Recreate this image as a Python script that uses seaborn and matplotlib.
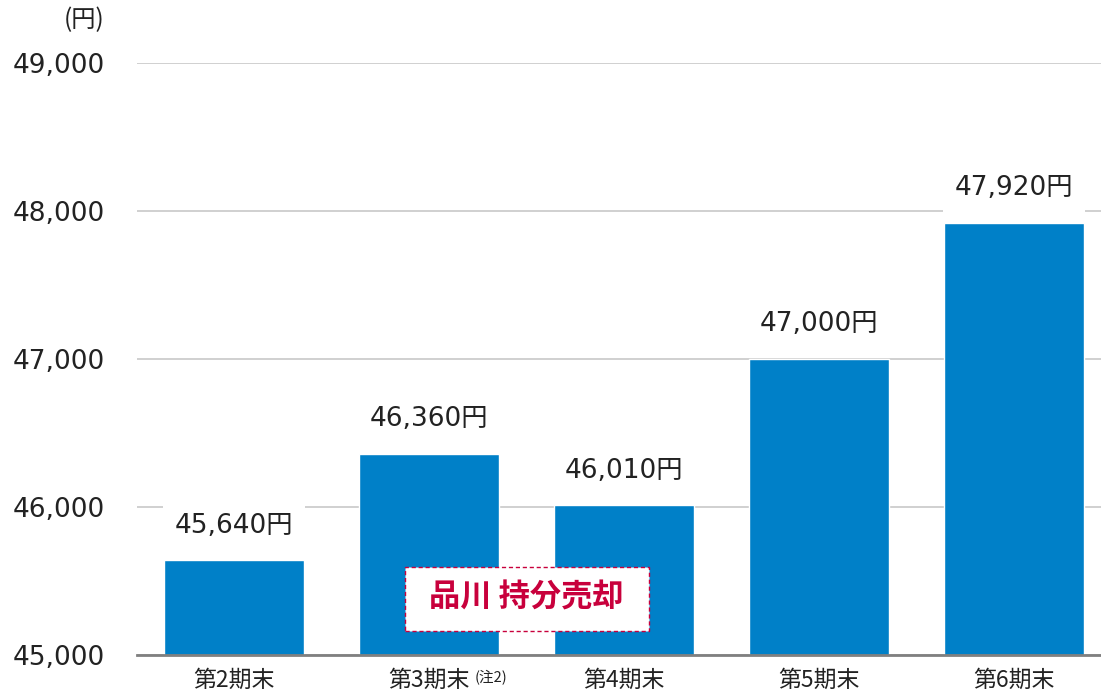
import matplotlib
matplotlib.use("Agg")
import matplotlib.pyplot as plt
from matplotlib.patches import Rectangle
import seaborn as sns
import pandas as pd

categories = ["第2期末", "第3期末", "第4期末", "第5期末", "第6期末"]
values = [45640, 46360, 46010, 47000, 47920]
yticks = [45000, 46000, 47000, 48000, 49000]
unit_label = "(円)"
note_label = "(注2)"
note_index = 1
callout_text = "品川 持分売却"
callout_x = 1.5
callout_y = 45385
callout_box = (0.877, 45162, 2.128 - 0.877, 45595 - 45162)

sns.set_theme(style="white")
plt.rcParams['font.family'] = ['DejaVu Sans', 'Noto Sans CJK JP']

BAR = "#0080C8"
RED = "#C8003C"

fig = plt.figure(figsize=(11.01, 6.95), dpi=100)
ax = fig.add_axes([0.124, 0.0576, 0.8856, 0.8518])

df = pd.DataFrame({"cat": categories, "val": values})
sns.barplot(data=df, x="cat", y="val", color=BAR, saturation=1, width=0.72, ax=ax, zorder=2)

ax.set_ylim(45000, 49000)
ax.set_xlim(-0.5, 4.5)
ax.set_yticks(yticks)
ax.set_yticklabels([f"{v:,}" for v in yticks], fontsize=19, color="#222222")
ax.yaxis.grid(True, color="#c8c8c8", linewidth=1.2, zorder=0)
ax.set_axisbelow(True)
ax.tick_params(axis="y", length=0, pad=23)
ax.tick_params(axis="x", length=0, pad=10)
ax.set_xticks(range(len(categories)))
ax.set_xticklabels(categories, fontsize=16.5, color="#222222", family=['Noto Sans CJK JP'])
ax.set_xlabel("")
ax.set_ylabel("")
for s in ["left", "right", "top"]:
    ax.spines[s].set_visible(False)
ax.spines["bottom"].set_color("#808080")
ax.spines["bottom"].set_linewidth(2)
ax.spines["bottom"].set_zorder(3)

for i, v in enumerate(values):
    ax.annotate(f"{v:,}円", xy=(i, v), xytext=(0, 25), textcoords="offset points",
                ha="center", va="center", fontsize=19, color="#222222",
                bbox=dict(boxstyle="square,pad=0.45", fc="white", ec="none"), zorder=4)

# note next to 3rd label
ax.annotate(note_label, xy=(note_index, 0), xycoords=("data", "axes fraction"),
            xytext=(33, -16), textcoords="offset points", ha="left", va="center",
            fontsize=10.5, color="#222222", family=['Noto Sans CJK JP'], annotation_clip=False)

ax.add_patch(Rectangle((callout_box[0], callout_box[1]), callout_box[2], callout_box[3],
                       fc="white", ec=RED, lw=1, ls=(0, (3, 2)), zorder=5))
ax.text(callout_x, callout_y, callout_text, ha="center", va="center", fontsize=22.5,
        fontweight="bold", color=RED, family=['Noto Sans CJK JP'], zorder=6)

fig.text(84 / 1101, 1 - 20 / 695, unit_label, ha="center", va="center", fontsize=17.5,
         color="#222222", family=['Noto Sans CJK JP'])

fig.savefig("out.png", dpi=100)
